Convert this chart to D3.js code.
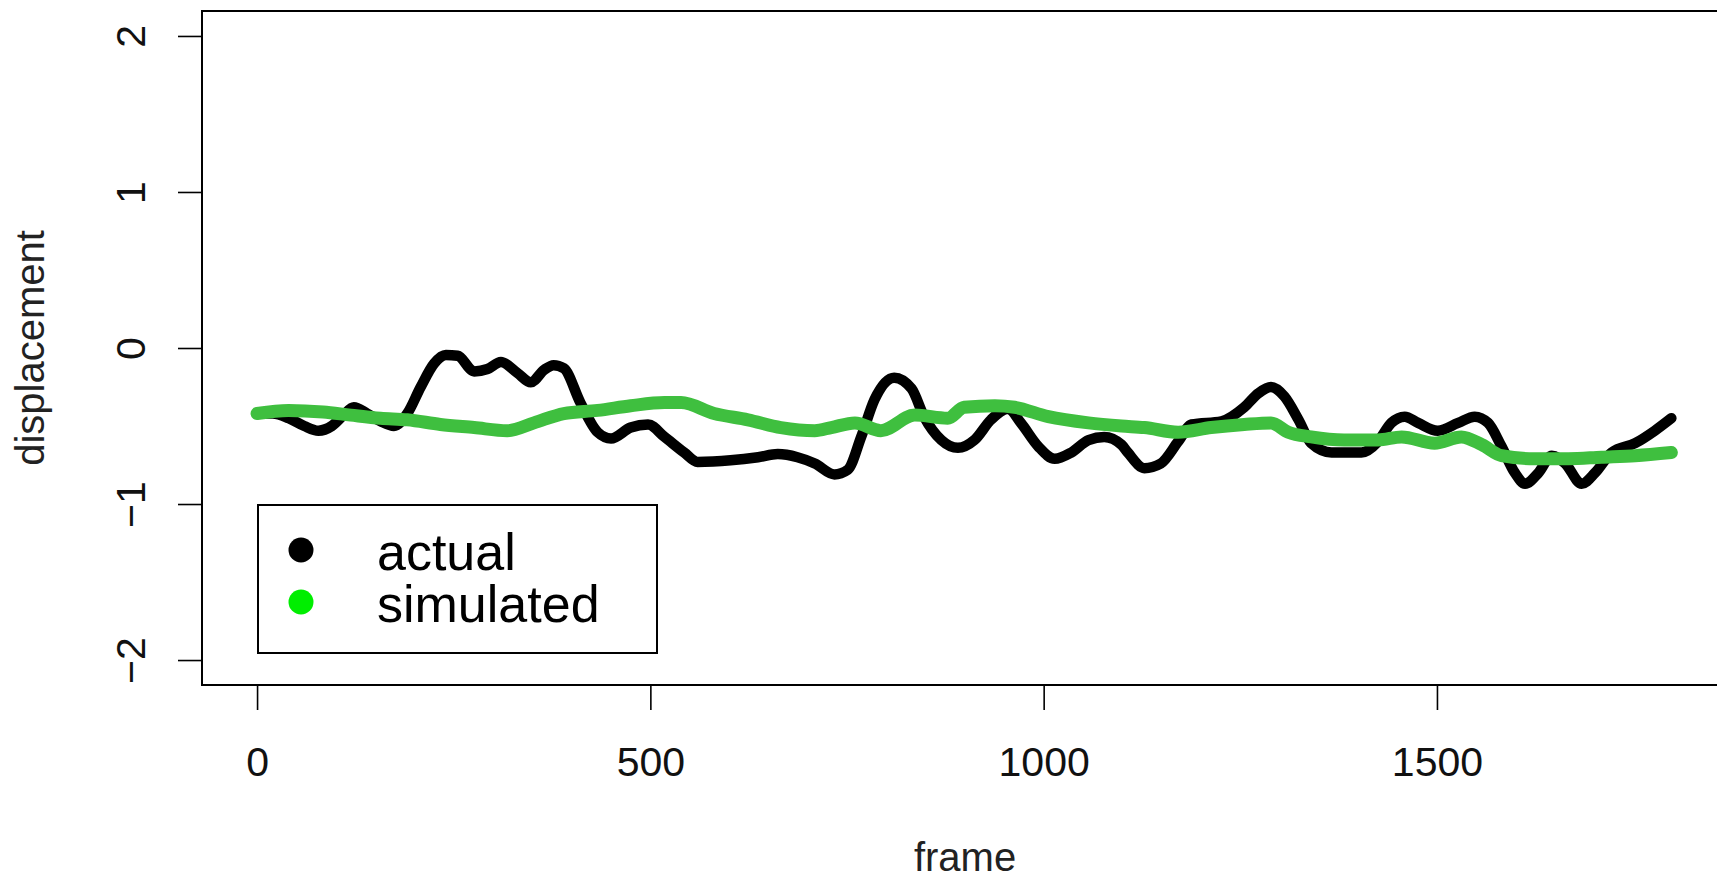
<!DOCTYPE html>
<html>
<head>
<meta charset="utf-8">
<script src="https://cdn.jsdelivr.net/npm/d3@7"></script>
<style>
  html, body { margin: 0; padding: 0; background: #fff; }
  svg { display: block; font-family: "Liberation Sans", Arial, sans-serif; }
</style>
</head>
<body>
<svg id="chart" width="1717" height="881"></svg>
<script>
// ---- data ----
const actualFrames = [0,20,40,60,78,95,110,123,140,157,174,191,208,225,240,255,276,293,310,331,348,365,377,390,411,433,450,475,497,518,543,560,602,637,662,687,709,734,751,768,785,810,832,848,870,891,912,933,955,971,993,1014,1035,1057,1077,1099,1107,1128,1149,1171,1188,1226,1255,1273,1289,1306,1324,1340,1366,1404,1425,1442,1459,1476,1501,1527,1548,1565,1582,1599,1612,1629,1646,1663,1684,1701,1722,1752,1777,1798];
const actualValues = [-0.42,-0.42,-0.45,-0.50,-0.53,-0.50,-0.43,-0.38,-0.42,-0.47,-0.50,-0.42,-0.25,-0.10,-0.045,-0.05,-0.15,-0.135,-0.09,-0.16,-0.22,-0.14,-0.11,-0.13,-0.35,-0.54,-0.58,-0.51,-0.49,-0.57,-0.67,-0.73,-0.72,-0.70,-0.68,-0.70,-0.74,-0.81,-0.78,-0.57,-0.33,-0.19,-0.26,-0.44,-0.59,-0.64,-0.59,-0.46,-0.39,-0.48,-0.63,-0.71,-0.67,-0.59,-0.57,-0.62,-0.67,-0.77,-0.74,-0.60,-0.49,-0.47,-0.38,-0.29,-0.25,-0.31,-0.46,-0.61,-0.67,-0.67,-0.60,-0.48,-0.44,-0.48,-0.53,-0.48,-0.44,-0.48,-0.63,-0.80,-0.87,-0.80,-0.69,-0.74,-0.87,-0.80,-0.67,-0.61,-0.53,-0.45];

const simFrames = [0,40,84,119,157,191,233,276,318,352,390,433,475,518,539,581,624,666,709,730,760,793,836,878,899,938,963,1006,1057,1099,1128,1171,1213,1255,1289,1311,1340,1382,1425,1455,1497,1531,1557,1582,1624,1667,1709,1752,1798];
const simValues = [-0.42,-0.40,-0.41,-0.43,-0.45,-0.46,-0.49,-0.51,-0.53,-0.48,-0.42,-0.40,-0.37,-0.35,-0.35,-0.42,-0.46,-0.51,-0.53,-0.51,-0.48,-0.53,-0.43,-0.45,-0.38,-0.37,-0.38,-0.44,-0.48,-0.50,-0.51,-0.54,-0.51,-0.49,-0.48,-0.54,-0.57,-0.59,-0.59,-0.57,-0.61,-0.57,-0.62,-0.69,-0.71,-0.71,-0.70,-0.69,-0.67];

const xTicks = [0, 500, 1000, 1500];
const yTicks = [-2, -1, 0, 1, 2];
const seriesNames = ["actual", "simulated"];
const seriesColors = ["#000000", "#3fbf3f"];
const legendColors = ["#000000", "#00ee00"];
const xLabel = "frame";
const yLabel = "displacement";

// ---- layout ----
const svg = d3.select("#chart");
const mLeft = 202, mRight = 1728, mTop = 11, mBottom = 685;

const x = d3.scaleLinear().domain([-70, 1870]).range([mLeft, mRight]);
const y = d3.scaleLinear().domain([-2.16, 2.16]).range([mBottom, mTop]);

// plot box
svg.append("rect")
  .attr("x", mLeft).attr("y", mTop)
  .attr("width", mRight - mLeft).attr("height", mBottom - mTop)
  .attr("fill", "none").attr("stroke", "#000").attr("stroke-width", 2);

// x axis
const xAxis = svg.append("g")
  .attr("transform", `translate(0,${mBottom})`)
  .call(d3.axisBottom(x).tickValues(xTicks).tickSize(25).tickPadding(0).tickFormat(d3.format("d")));
xAxis.select(".domain").remove();
xAxis.selectAll(".tick line").attr("stroke", "#000").attr("stroke-width", 1.6);
xAxis.selectAll(".tick text")
  .attr("y", 91).attr("dy", null)
  .attr("font-size", 41).attr("fill", "#111")
  .attr("font-family", "'Liberation Sans', Arial, sans-serif");

// y axis
const yAxis = svg.append("g")
  .attr("transform", `translate(${mLeft},0)`)
  .call(d3.axisLeft(y).tickValues(yTicks).tickSize(24).tickPadding(0).tickFormat(d3.format("d")));
yAxis.select(".domain").remove();
yAxis.selectAll(".tick line").attr("stroke", "#000").attr("stroke-width", 1.6);
yAxis.selectAll(".tick text")
  .attr("x", null).attr("dy", null)
  .attr("text-anchor", "middle")
  .attr("transform", "translate(-57,0) rotate(-90)")
  .attr("font-size", 41).attr("fill", "#111")
  .attr("font-family", "'Liberation Sans', Arial, sans-serif");

// axis titles
svg.append("text")
  .attr("x", (mLeft + mRight) / 2).attr("y", 871)
  .attr("text-anchor", "middle")
  .attr("font-size", 40).attr("fill", "#222")
  .text(xLabel);
svg.append("text")
  .attr("transform", `translate(44,${y(0)}) rotate(-90)`)
  .attr("text-anchor", "middle")
  .attr("font-size", 40).attr("fill", "#222")
  .text(yLabel);

// lines
const line = d3.line()
  .x(d => x(d[0])).y(d => y(d[1]))
  .curve(d3.curveMonotoneX);

const actualData = actualFrames.map((f, i) => [f, actualValues[i]]);
const simData = simFrames.map((f, i) => [f, simValues[i]]);

const plot = svg.append("g");
plot.append("path")
  .datum(actualData)
  .attr("d", line)
  .attr("fill", "none")
  .attr("stroke", seriesColors[0])
  .attr("stroke-width", 10.5)
  .attr("stroke-linejoin", "round")
  .attr("stroke-linecap", "round");
plot.append("path")
  .datum(simData)
  .attr("d", line)
  .attr("fill", "none")
  .attr("stroke", seriesColors[1])
  .attr("stroke-width", 13)
  .attr("stroke-linejoin", "round")
  .attr("stroke-linecap", "round");

// legend
const lg = svg.append("g");
lg.append("rect")
  .attr("x", 258).attr("y", 505)
  .attr("width", 399).attr("height", 148)
  .attr("fill", "#fff").attr("stroke", "#000").attr("stroke-width", 2);
seriesNames.forEach((name, i) => {
  lg.append("circle")
    .attr("cx", 301).attr("cy", 550 + i * 52)
    .attr("r", 12.5)
    .attr("fill", legendColors[i]);
});
const lgText = lg.append("text")
  .attr("x", 377).attr("y", 570)
  .attr("font-size", 52).attr("fill", "#000");
seriesNames.forEach((name, i) => {
  lgText.append("tspan")
    .attr("x", 377)
    .attr("dy", i === 0 ? 0 : 52)
    .text(name);
});
</script>
</body>
</html>
